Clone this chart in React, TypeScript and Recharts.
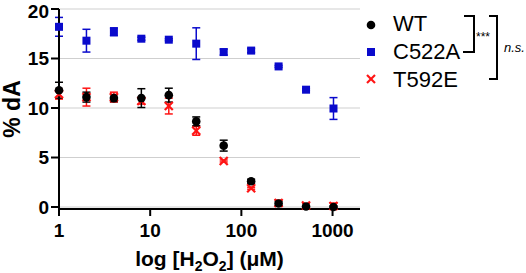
import React from "react";
import {
  ScatterChart,
  Scatter,
  XAxis,
  YAxis,
  CartesianGrid,
  ErrorBar,
  Legend,
  Label,
} from "recharts";

const concentrations = [1, 2, 4, 8, 16, 32, 64, 128, 256, 512, 1024];

const wtMean = [11.8, 11.1, 11.0, 11.0, 11.3, 8.65, 6.2, 2.6, 0.35, 0.05, 0.0];
const wtErr = [0.8, 0.5, 0.35, 0.95, 0.7, 0.45, 0.55, 0.2, 0.2, 0.1, 0.1];

const c522aMean = [18.2, 16.8, 17.7, 17.0, 16.9, 16.5, 15.65, 15.8, 14.2, 11.85, 9.95];
const c522aErr = [0.95, 1.15, 0.4, 0.15, 0.1, 1.6, 0.3, 0.2, 0.1, 0.1, 1.1];

const t592eMean = [11.4, 11.1, 11.1, 10.7, 10.2, 7.7, 4.65, 1.9, 0.4, 0.15, 0.1];
const t592eErr = [0.5, 0.9, 0.5, 0.3, 0.8, 0.45, 0.1, 0.1, 0.3, 0.2, 0.3];

const seriesNames = ["WT", "C522A", "T592E"];
const xTicks = [1, 10, 100, 1000];
const yTicks = [0, 5, 10, 15, 20];

const BLUE = "#0a0acc";
const RED = "#ff1414";
const FONT = "'Liberation Sans', Arial, sans-serif";

const toPoints = (means: number[], errs: number[]) =>
  concentrations.map((x, i) => ({ x, y: means[i], err: errs[i] }));

const wtData = toPoints(wtMean, wtErr);
const c522aData = toPoints(c522aMean, c522aErr);
const t592eData = toPoints(t592eMean, t592eErr);

// marker shapes
const Dot = (p: any) => <circle cx={p.cx} cy={p.cy} r={4.3} fill="#000" />;
const Square = (p: any) => (
  <rect x={p.cx - 4} y={p.cy - 4} width={8} height={8} fill={BLUE} />
);
const Cross = (p: any) => (
  <g stroke={RED} strokeWidth={2.2}>
    <line x1={p.cx - 4} y1={p.cy - 4} x2={p.cx + 4} y2={p.cy + 4} />
    <line x1={p.cx - 4} y1={p.cy + 4} x2={p.cx + 4} y2={p.cy - 4} />
  </g>
);

const XTitle = (props: any) => {
  const vb = props.viewBox || {};
  const cx = vb.x + vb.width / 2;
  return (
    <text x={cx} y={266} textAnchor="middle" fontFamily={FONT} fontWeight="bold" fontSize={21} fill="#000">
      log [H<tspan fontSize={14} dy={5}>2</tspan>
      <tspan dy={-5}>O</tspan>
      <tspan fontSize={14} dy={5}>2</tspan>
      <tspan dy={-5}>] (μM)</tspan>
    </text>
  );
};

const YTitle = (props: any) => {
  const vb = props.viewBox || {};
  const cy = vb.y + vb.height / 2;
  return (
    <text
      x={12}
      y={cy}
      transform={`rotate(-90 12 ${cy})`}
      textAnchor="middle"
      dominantBaseline="central"
      fontFamily={FONT}
      fontWeight="bold"
      fontSize={23}
      fill="#000"
    >
      % dA
    </text>
  );
};

const LegendBox = () => (
  <svg width={166} height={100} style={{ display: "block" }}>
    <circle cx={11} cy={25} r={4.3} fill="#000" />
    <rect x={7} y={48} width={8} height={8} fill={BLUE} />
    <g stroke={RED} strokeWidth={2.2}>
      <line x1={7} y1={75} x2={15} y2={83} />
      <line x1={7} y1={83} x2={15} y2={75} />
    </g>
    {seriesNames.map((n, i) => (
      <text key={n} x={33} y={31 + i * 28} fontFamily={FONT} fontSize={22} fill="#000">
        {n}
      </text>
    ))}
    <polyline points="104,16 114,16 114,52 103,52" fill="none" stroke="#000" strokeWidth={2} />
    <text x={116} y={41} fontFamily={FONT} fontSize={12} fill="#000">***</text>
    <polyline points="129,16 137,16 137,79 129,79" fill="none" stroke="#000" strokeWidth={2} />
    <text x={144} y={52} fontFamily={FONT} fontStyle="italic" fontSize={13} fill="#000">n.s.</text>
  </svg>
);

export default function App() {
  return (
    <div style={{ position: "absolute", left: 0, top: 0 }}>
      <ScatterChart width={526} height={273} margin={{ top: 9, right: 166, bottom: 0, left: 0 }}>
        <CartesianGrid vertical={false} stroke="#cfcfcf" strokeWidth={1} />
        <XAxis
          dataKey="x"
          type="number"
          scale="log"
          domain={[1, 2000]}
          ticks={xTicks}
          height={64}
          axisLine={{ stroke: "#000", strokeWidth: 2 }}
          tickLine={{ stroke: "#000", strokeWidth: 2 }}
          tickSize={7}
          tickMargin={8}
          tick={{ fill: "#000", fontSize: 19, fontWeight: "bold", fontFamily: FONT }}
        >
          <Label content={XTitle} />
        </XAxis>
        <YAxis
          dataKey="y"
          type="number"
          domain={[0, 20]}
          ticks={yTicks}
          width={59}
          axisLine={{ stroke: "#000", strokeWidth: 2 }}
          tickLine={{ stroke: "#000", strokeWidth: 2 }}
          tickSize={8}
          tickMargin={2}
          tick={{ fill: "#000", fontSize: 19, fontWeight: "bold", fontFamily: FONT }}
        >
          <Label content={YTitle} />
        </YAxis>
        <Legend
          content={LegendBox}
          layout="horizontal"
          verticalAlign="middle"
          align="center"
          wrapperStyle={{ left: 360, top: 0, width: 166, height: 100 }}
        />
        <Scatter name="C522A" data={c522aData} shape={Square} fill={BLUE} isAnimationActive={false}>
          <ErrorBar dataKey="err" direction="y" width={4} stroke={BLUE} strokeWidth={1.5} />
        </Scatter>
        <Scatter name="T592E" data={t592eData} shape={Cross} fill={RED} isAnimationActive={false}>
          <ErrorBar dataKey="err" direction="y" width={4} stroke={RED} strokeWidth={1.5} />
        </Scatter>
        <Scatter name="WT" data={wtData} shape={Dot} fill="#000" isAnimationActive={false}>
          <ErrorBar dataKey="err" direction="y" width={4} stroke="#000" strokeWidth={1.5} />
        </Scatter>
      </ScatterChart>
    </div>
  );
}
